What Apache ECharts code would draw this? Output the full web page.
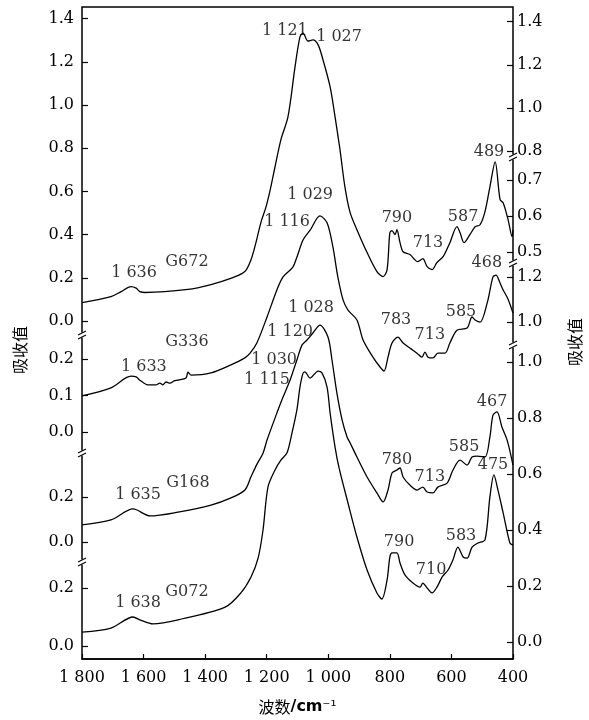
<!DOCTYPE html>
<html>
<head>
<meta charset="utf-8">
<script src="https://cdn.jsdelivr.net/npm/echarts@6/dist/echarts.min.js"></script>
<style>
html, body { margin: 0; padding: 0; background: #fff; }
#chart { width: 589px; height: 720px; }
</style>
</head>
<body>
<div id="chart"></div>
<script>
// 波数 cm-1 / 吸收值，四条红外光谱（各自的纵坐标）
var g672 = [
  [1800, 0.083], [1706, 0.111], [1673, 0.134], [1641, 0.157], [1624, 0.150], [1612, 0.134], [1595, 0.130],
  [1456, 0.144], [1381, 0.167], [1310, 0.199], [1271, 0.227], [1251, 0.282], [1235, 0.361], [1219, 0.454],
  [1202, 0.528], [1188, 0.610], [1173, 0.713], [1154, 0.838], [1131, 0.944], [1108, 1.176], [1092, 1.315],
  [1082, 1.333], [1066, 1.296], [1050, 1.301], [1033, 1.278], [1017, 1.208], [994, 1.083], [978, 0.944],
  [962, 0.792], [946, 0.620], [929, 0.500], [907, 0.421], [874, 0.315], [842, 0.227], [822, 0.204],
  [809, 0.236], [800, 0.407], [793, 0.417], [783, 0.398], [777, 0.421], [767, 0.361], [757, 0.319],
  [735, 0.306], [709, 0.273], [693, 0.287], [679, 0.250], [663, 0.236], [647, 0.269], [627, 0.296],
  [605, 0.361], [582, 0.435], [572, 0.407], [559, 0.361], [540, 0.398], [523, 0.435], [507, 0.444],
  [491, 0.505], [475, 0.620], [458, 0.736], [442, 0.560], [432, 0.546], [416, 0.468], [403, 0.389], [400, 0.421]
];
var g336 = [
  [1800, 0.099], [1706, 0.121], [1641, 0.153], [1624, 0.151], [1612, 0.142], [1586, 0.129], [1560, 0.129],
  [1547, 0.134], [1537, 0.129], [1527, 0.137], [1514, 0.134], [1501, 0.140], [1488, 0.142], [1462, 0.148],
  [1456, 0.164], [1446, 0.156], [1381, 0.162], [1316, 0.184], [1271, 0.203], [1254, 0.216], [1232, 0.244],
  [1199, 0.315], [1167, 0.389], [1147, 0.425], [1115, 0.452], [1102, 0.479], [1082, 0.526], [1059, 0.553],
  [1027, 0.592], [1004, 0.573], [985, 0.507], [969, 0.425], [952, 0.362], [936, 0.334], [907, 0.307],
  [887, 0.252], [855, 0.205], [832, 0.178], [819, 0.167], [806, 0.205], [793, 0.244], [774, 0.260],
  [757, 0.244], [735, 0.230], [712, 0.216], [696, 0.205], [686, 0.219], [676, 0.205], [660, 0.203],
  [644, 0.216], [621, 0.216], [605, 0.244], [582, 0.279], [549, 0.285], [533, 0.315], [523, 0.307],
  [507, 0.301], [484, 0.353], [465, 0.425], [455, 0.430], [442, 0.408], [432, 0.389], [416, 0.364], [400, 0.326]
];
var g168 = [
  [1800, 0.076], [1706, 0.098], [1634, 0.147], [1579, 0.116], [1488, 0.133], [1381, 0.164], [1316, 0.196],
  [1271, 0.231], [1251, 0.290], [1232, 0.345], [1212, 0.395], [1199, 0.453], [1167, 0.573], [1147, 0.644],
  [1124, 0.720], [1102, 0.809], [1085, 0.876], [1069, 0.898], [1050, 0.929], [1027, 0.964], [1001, 0.911],
  [988, 0.809], [972, 0.662], [955, 0.542], [939, 0.467], [929, 0.440], [907, 0.378], [874, 0.289],
  [842, 0.218], [822, 0.178], [806, 0.231], [793, 0.307], [777, 0.320], [767, 0.329], [757, 0.289],
  [735, 0.253], [712, 0.231], [693, 0.244], [679, 0.222], [660, 0.218], [644, 0.244], [614, 0.262],
  [595, 0.320], [572, 0.364], [549, 0.342], [533, 0.378], [517, 0.382], [491, 0.378], [475, 0.467],
  [465, 0.564], [452, 0.578], [436, 0.511], [419, 0.453], [400, 0.342]
];
var g072 = [
  [1800, 0.048], [1706, 0.062], [1634, 0.100], [1612, 0.090], [1569, 0.076], [1488, 0.090], [1335, 0.134],
  [1284, 0.183], [1251, 0.238], [1228, 0.303], [1212, 0.400], [1196, 0.548], [1173, 0.607], [1154, 0.641],
  [1134, 0.666], [1118, 0.734], [1102, 0.814], [1092, 0.893], [1082, 0.941], [1076, 0.945], [1059, 0.924],
  [1033, 0.948], [1020, 0.941], [1004, 0.893], [994, 0.803], [978, 0.686], [965, 0.614], [936, 0.493],
  [907, 0.376], [874, 0.262], [842, 0.183], [826, 0.162], [809, 0.228], [800, 0.307], [793, 0.321],
  [777, 0.321], [767, 0.286], [751, 0.245], [725, 0.217], [702, 0.203], [693, 0.217], [679, 0.200],
  [663, 0.183], [647, 0.203], [630, 0.238], [611, 0.262], [595, 0.297], [579, 0.341], [562, 0.307],
  [549, 0.303], [533, 0.341], [514, 0.355], [491, 0.366], [475, 0.514], [462, 0.590], [449, 0.538],
  [432, 0.459], [410, 0.355], [400, 0.348]
];

// 峰位标注 [波数, 吸收值, 文字]
var g672Notes = [[1141, 1.343, '1 121'], [965, 1.315, '1 027'], [478, 0.782, '489'], [777, 0.477, '790'],
  [676, 0.361, '713'], [562, 0.481, '587'], [1631, 0.222, '1 636'], [1459, 0.273, 'G672']];
var g336Notes = [[1059, 0.649, '1 029'], [1134, 0.575, '1 116'], [780, 0.307, '783'], [670, 0.266, '713'],
  [569, 0.329, '585'], [485, 0.463, '468'], [1599, 0.178, '1 633'], [1459, 0.247, 'G336']];
var g168Notes = [[1056, 1.040, '1 028'], [1124, 0.933, '1 120'], [1176, 0.809, '1 030'], [777, 0.364, '780'],
  [670, 0.289, '713'], [559, 0.422, '585'], [468, 0.622, '467'], [1618, 0.209, '1 635'], [1456, 0.262, 'G168']];
var g072Notes = [[1199, 0.917, '1 115'], [770, 0.359, '790'], [666, 0.262, '710'], [569, 0.379, '583'],
  [465, 0.624, '475'], [1618, 0.148, '1 638'], [1459, 0.186, 'G072']];

var leftTicks = [[0, 0.2, 0.4, 0.6, 0.8, 1.0, 1.2, 1.4], [0, 0.1, 0.2], [0, 0.2], [0, 0.2]];
var rightTicks = [[0.8, 1.0, 1.2, 1.4], [0.5, 0.6, 0.7], [1.0, 1.2], [0, 0.2, 0.4, 0.6, 0.8, 1.0]];

var chart = echarts.init(document.getElementById('chart'));

var serif = 'DejaVu Serif';
var L = 82, R = 76;   // 绘图区左右
var grids = [], xAxes = [], yAxes = [], series = [];

function addGrid(top, bottom, yAxis) {
  var gi = grids.length;
  grids.push({ left: L, right: R, top: top, bottom: bottom, containLabel: false });
  xAxes.push({ gridIndex: gi, type: 'value', inverse: true, min: 400, max: 1800, show: false });
  yAxis.gridIndex = gi;
  yAxes.push(yAxis);
  return gi;
}

// 曲线层：全高网格，纵轴隐藏，按各自刻度定位
var curves = [
  { data: g672, notes: g672Notes, min: -1.5694, max: 1.4537 },
  { data: g336, notes: g336Notes, min: -0.6247, max: 1.1644 },
  { data: g168, notes: g168Notes, min: -0.5244, max: 2.3778 },
  { data: g072, notes: g072Notes, min: -0.0483, max: 2.2034 }
];
curves.forEach(function (c) {
  var gi = addGrid(7, 60, { type: 'value', show: false, min: c.min, max: c.max });
  series.push({
    type: 'line', xAxisIndex: gi, yAxisIndex: gi, data: c.data,
    showSymbol: false, smooth: 0.3, silent: true,
    lineStyle: { color: '#000', width: 1.3 }
  });
  series.push({
    type: 'scatter', xAxisIndex: gi, yAxisIndex: gi, data: c.notes,
    symbolSize: 1, itemStyle: { color: 'transparent' }, silent: true,
    label: {
      show: true, position: 'inside', color: '#000',
      fontFamily: serif, fontSize: 16,
      formatter: function (p) { return p.value[2]; }
    }
  });
});

// 外框 + 横轴
grids[0].show = true;
grids[0].borderColor = '#000';
grids[0].borderWidth = 1.5;
xAxes[0] = {
  gridIndex: 0, type: 'value', inverse: true, min: 400, max: 1800, interval: 200,
  axisLine: { show: true, onZero: false, lineStyle: { color: '#000', width: 1.5 } },
  axisTick: { show: true, inside: true, length: 5, lineStyle: { color: '#000', width: 1.2 } },
  splitLine: { show: false },
  axisLabel: {
    color: '#000', fontFamily: serif, fontSize: 16, margin: 11,
    formatter: function (v) {
      return v >= 1000 ? Math.floor(v / 1000) + ' ' + String(v % 1000).padStart(3, '0') : String(v);
    }
  },
  name: '{a|波数}{b|/cm}{c|⁻¹}',
  nameLocation: 'middle', nameGap: 40,
  nameTextStyle: {
    rich: {
      a: { fontFamily: 'Noto Sans CJK SC', fontSize: 16, color: '#000' },
      b: { fontFamily: 'DejaVu Sans', fontWeight: 'bold', fontSize: 16, color: '#000' },
      c: { fontFamily: 'DejaVu Sans', fontSize: 15, color: '#000' }
    }
  }
};

// 分段纵轴（只画刻度和数字）
function segAxis(top, bottom, pos, min, max, vals) {
  addGrid(top, 720 - bottom, {
    type: 'value', position: pos, min: min, max: max,
    axisLine: { show: false },
    splitLine: { show: false },
    axisTick: { show: true, inside: true, length: 6, customValues: vals, lineStyle: { color: '#000', width: 1.2 } },
    axisLabel: {
      show: true, customValues: vals, color: '#000', fontFamily: serif, fontSize: 16,
      margin: pos === 'left' ? 8 : 4,
      formatter: function (v) { return v.toFixed(1); }
    }
  });
}
segAxis(7, 333, 'left', -0.0556, 1.4537, leftTicks[0]);
segAxis(337, 451, 'left', -0.0521, 0.2603, leftTicks[1]);
segAxis(455, 560, 'left', -0.08, 0.3867, leftTicks[2]);
segAxis(564, 660, 'left', -0.0483, 0.2828, leftTicks[3]);
segAxis(7, 155, 'right', 0.782, 1.468, rightTicks[0]);
segAxis(159, 261, 'right', 0.475, 0.7583, rightTicks[1]);
segAxis(265, 343, 'right', 0.9067, 1.2533, rightTicks[2]);
segAxis(347, 660, 'right', -0.0643, 1.0536, rightTicks[3]);

// 断轴符号
function brk(x, y) {
  return {
    type: 'group', x: x, y: y, z: 100, silent: true,
    children: [
      { type: 'rect', shape: { x: -2, y: -2.5, width: 4, height: 5 }, style: { fill: '#fff' } },
      { type: 'line', shape: { x1: -4, y1: 0, x2: 4, y2: -4 }, style: { stroke: '#000', lineWidth: 1.2 } },
      { type: 'line', shape: { x1: -4, y1: 4, x2: 4, y2: 0 }, style: { stroke: '#000', lineWidth: 1.2 } }
    ]
  };
}
var graphics = [brk(82, 335), brk(82, 453), brk(82, 562), brk(513, 157), brk(513, 263), brk(513, 345)];
graphics.push({
  type: 'text', x: 20, y: 350, rotation: Math.PI / 2, silent: true,
  style: { text: '吸收值', font: '16px "Noto Sans CJK SC"', fill: '#000', align: 'center', verticalAlign: 'middle' }
});
graphics.push({
  type: 'text', x: 575, y: 342, rotation: Math.PI / 2, silent: true,
  style: { text: '吸收值', font: '16px "Noto Sans CJK SC"', fill: '#000', align: 'center', verticalAlign: 'middle' }
});

chart.setOption({
  animation: false,
  backgroundColor: '#fff',
  grid: grids,
  xAxis: xAxes,
  yAxis: yAxes,
  series: series,
  graphic: graphics
});
</script>
</body>
</html>
